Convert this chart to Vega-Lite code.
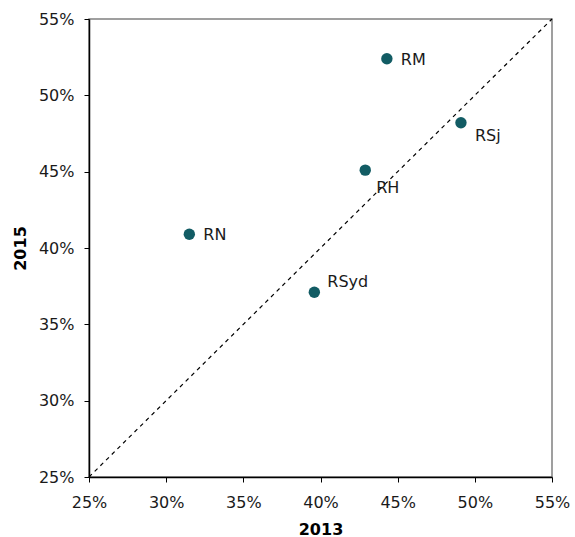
{
  "$schema": "https://vega.github.io/schema/vega-lite/v6.json",
  "autosize": {"type": "none"},
  "padding": {"left": 89, "top": 19, "right": 23, "bottom": 60},
  "width": 463,
  "height": 458,
  "config": {
    "font": "DejaVu Sans",
    "view": {"stroke": "#808080", "strokeWidth": 1.5},
    "axis": {
      "grid": false,
      "domainColor": "#000000",
      "domainWidth": 1.5,
      "tickColor": "#000000",
      "tickSize": 5,
      "labelFont": "DejaVu Sans",
      "labelFontSize": 16,
      "labelColor": "#1a1a1a",
      "titleFont": "DejaVu Sans",
      "titleFontSize": 16,
      "titleFontWeight": "bold",
      "titleColor": "#000000"
    }
  },
  "datasets": {
    "pts": [
      {"name": "RN", "y2013": 0.315, "y2015": 0.409},
      {"name": "RM", "y2013": 0.443, "y2015": 0.524},
      {"name": "RSj", "y2013": 0.491, "y2015": 0.482},
      {"name": "RH", "y2013": 0.429, "y2015": 0.451},
      {"name": "RSyd", "y2013": 0.396, "y2015": 0.371}
    ],
    "diag": [
      {"y2013": 0.25, "y2015": 0.25},
      {"y2013": 0.55, "y2015": 0.55}
    ]
  },
  "encoding": {
    "x": {
      "field": "y2013", "type": "quantitative", "title": "2013",
      "scale": {"domain": [0.25, 0.55], "nice": false, "zero": false},
      "axis": {"values": [0.25, 0.3, 0.35, 0.4, 0.45, 0.5, 0.55], "format": ".0%", "labelPadding": 12, "titlePadding": 11, "labelFlush": false}
    },
    "y": {
      "field": "y2015", "type": "quantitative", "title": "2015",
      "scale": {"domain": [0.25, 0.55], "nice": false, "zero": false},
      "axis": {"values": [0.25, 0.3, 0.35, 0.4, 0.45, 0.5, 0.55], "format": ".0%", "labelPadding": 10, "titlePadding": 10, "labelFlush": false}
    }
  },
  "layer": [
    {
      "data": {"name": "diag"},
      "mark": {"type": "line", "color": "#000000", "strokeWidth": 1.2, "strokeDash": [4, 4]},
      "encoding": {}
    },
    {
      "data": {"name": "pts"},
      "mark": {"type": "point", "filled": true, "shape": "circle", "size": 130, "color": "#125C64", "opacity": 1}
    },
    {
      "data": {"name": "pts"},
      "transform": [{"filter": {"field": "name", "oneOf": ["RN", "RM"]}}],
      "mark": {"type": "text", "align": "left", "baseline": "middle", "dx": 14, "dy": 1, "fontSize": 16, "color": "#1a1a1a"},
      "encoding": {"text": {"field": "name"}}
    },
    {
      "data": {"name": "pts"},
      "transform": [{"filter": {"field": "name", "equal": "RSj"}}],
      "mark": {"type": "text", "align": "left", "baseline": "middle", "dx": 14, "dy": 13, "fontSize": 16, "color": "#1a1a1a"},
      "encoding": {"text": {"field": "name"}}
    },
    {
      "data": {"name": "pts"},
      "transform": [{"filter": {"field": "name", "equal": "RH"}}],
      "mark": {"type": "text", "align": "left", "baseline": "middle", "dx": 11, "dy": 18, "fontSize": 16, "color": "#1a1a1a"},
      "encoding": {"text": {"field": "name"}}
    },
    {
      "data": {"name": "pts"},
      "transform": [{"filter": {"field": "name", "equal": "RSyd"}}],
      "mark": {"type": "text", "align": "left", "baseline": "middle", "dx": 13, "dy": -10, "fontSize": 16, "color": "#1a1a1a"},
      "encoding": {"text": {"field": "name"}}
    }
  ]
}
